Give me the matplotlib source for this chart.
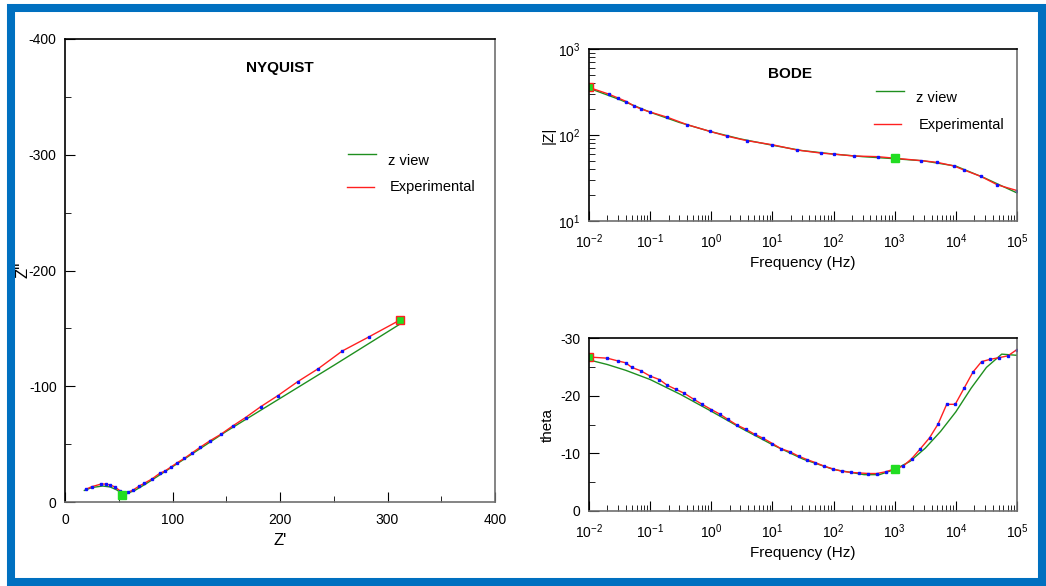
import numpy as np
import matplotlib.pyplot as plt
from matplotlib.patches import Rectangle
from matplotlib.ticker import LogLocator, MultipleLocator, NullFormatter

plt.rcParams['font.family'] = ['Liberation Sans', 'DejaVu Sans']
plt.rcParams['axes.unicode_minus'] = False
plt.rcParams['mathtext.fontset'] = 'custom'
plt.rcParams['mathtext.rm'] = 'Liberation Sans'
plt.rcParams['mathtext.it'] = 'Liberation Sans:italic'

# Nyquist - experimental
exp_zre = [19.5, 24.8, 33.5, 38, 42, 46.5, 51, 56, 59, 63.5, 69, 73.5, 81, 88, 93, 99,
           104.5, 111, 118.5, 125.6, 135, 145, 156, 168, 182, 198, 216.5, 235.6, 258, 283, 311.6]
exp_zim = [-11, -13.2, -15.5, -15.5, -14.7, -13, -9.8, -8, -8.6, -10.4, -13.8, -16, -20, -24.7,
           -26.8, -30.5, -34, -37.7, -42.6, -47.2, -53, -58.5, -65.7, -73, -82.3, -91.9, -104,
           -115.2, -130.5, -142.8, -157.2]
# Nyquist - z view fit
fit_zre = [18, 25, 35, 42, 48, 53, 58, 65, 75, 90, 110, 150, 200, 250, 313]
fit_zim = [-10, -12.5, -13.8, -13, -10.5, -7.5, -7.5, -10, -15.5, -24.5, -36.5, -61, -89.5, -118, -154.5]

# Bode |Z|
exp_f = [0.01, 0.021, 0.030, 0.041, 0.054, 0.072, 0.10, 0.19, 0.40, 0.96, 1.8, 3.8, 10, 25,
         62, 100, 214, 525, 1000, 2690, 5000, 9330, 13800, 25700, 47900, 100000]
exp_mod = [357, 299, 269, 245, 218, 200, 185, 161, 132, 110, 97, 86, 77, 67, 61.6, 60, 57,
           56, 53.7, 50.4, 48, 43.6, 39, 33, 26.3, 22.6]
fit_f = [0.01, 0.03, 0.1, 0.3, 1, 3, 10, 30, 100, 300, 1000, 3000, 10000, 30000, 100000]
fit_mod = [350, 262, 184, 140, 109, 90, 76, 66, 60, 56, 53, 50, 43.5, 31.5, 21.2]

# Bode theta
th_logf = [-2, -1.70, -1.52, -1.40, -1.30, -1.15, -1.0, -0.85, -0.72, -0.58, -0.44, -0.29,
           -0.15, 0, 0.14, 0.27, 0.42, 0.56, 0.71, 0.85, 1.0, 1.14, 1.28, 1.43, 1.57, 1.70,
           1.84, 1.99, 2.13, 2.28, 2.42, 2.57, 2.71, 2.85, 3.0, 3.14, 3.28, 3.42, 3.57, 3.71,
           3.85, 3.99, 4.14, 4.28, 4.42, 4.56, 4.71, 4.85, 5.0]
exp_theta = [-26.7, -26.5, -26.0, -25.7, -24.9, -24.3, -23.4, -22.8, -21.8, -21.1, -20.4,
             -19.4, -18.5, -17.6, -16.8, -15.9, -14.9, -14.2, -13.3, -12.6, -11.7, -10.8,
             -10.3, -9.5, -8.9, -8.4, -7.8, -7.3, -6.9, -6.7, -6.6, -6.5, -6.5, -6.8, -7.3,
             -7.8, -9.1, -10.8, -12.7, -15.1, -18.5, -18.5, -21.4, -24.1, -25.9, -26.3,
             -26.6, -26.9, -28.0]
fit_logf = [-2, -1.7, -1.4, -1.0, -0.5, 0, 0.5, 1.0, 1.5, 2.0, 2.5, 2.75, 3.0, 3.25, 3.5,
            3.75, 4.0, 4.25, 4.5, 4.75, 5.0]
fit_theta = [-26.2, -25.4, -24.4, -22.8, -20.2, -17.3, -14.3, -11.5, -9.0, -7.2, -6.3, -6.3,
             -7.2, -8.6, -10.9, -13.8, -17.2, -21.3, -24.9, -27.2, -27.0]

W, H = 1046, 586
fig = plt.figure(figsize=(W / 100, H / 100), dpi=100)
# blue frame, 8 px wide
fig.patches.append(Rectangle((11 / W, 4 / H), (1042 - 11) / W, (578 - 4) / H,
                             transform=fig.transFigure, fill=False,
                             edgecolor='#0070c0', linewidth=5.8, zorder=10))

GREEN = '#1f8f1f'
RED = '#ff2020'
BLUE = '#1010ff'
SQ_GREEN = '#22dd22'


def px_axes(l, t, r, b):
    return fig.add_axes([l / W, (H - b) / H, (r - l) / W, (b - t) / H])


def style_axes(ax):
    for s in ['left', 'top']:
        ax.spines[s].set_color('black')
    for s in ['right', 'bottom']:
        ax.spines[s].set_color('#707070')
    for s in ax.spines.values():
        s.set_linewidth(1.2)
    ax.tick_params(which='both', direction='in', labelsize=10, top=False, right=False)
    ax.tick_params(which='major', length=7)
    ax.tick_params(which='minor', length=4)
    ax.tick_params(axis='x', which='both', pad=8)
    ax.tick_params(axis='y', which='both', pad=6)


def legend(ax, x0, x1, y1, y2, tx1, tx2, ty1, ty2):
    ax.plot([x0, x1], [y1, y1], color=GREEN, lw=1, transform=ax.transAxes)
    ax.plot([x0 - 0.003, x1 - 0.005], [y2, y2], color=RED, lw=1, transform=ax.transAxes)
    ax.text(tx1, ty1, 'z view', transform=ax.transAxes, fontsize=10.5, va='center')
    ax.text(tx2, ty2, 'Experimental', transform=ax.transAxes, fontsize=10.5, va='center')


def exp_line(ax, x, y):
    ax.plot(x, y, color=RED, lw=1, marker='s', ms=2, mfc=BLUE, mec=BLUE)


# Nyquist
ax1 = px_axes(65, 39, 495, 502)
ax1.plot(fit_zre, fit_zim, color=GREEN, lw=1)
exp_line(ax1, exp_zre, exp_zim)
ax1.plot(exp_zre[-1], exp_zim[-1], marker='s', ms=6, mfc=SQ_GREEN, mec=RED)
ax1.plot(53, -6, marker='s', ms=6, mfc=SQ_GREEN, mec=SQ_GREEN)
ax1.set_xlim(0, 400)
ax1.set_ylim(0, -400)
ax1.xaxis.set_major_locator(MultipleLocator(100))
ax1.xaxis.set_minor_locator(MultipleLocator(50))
ax1.yaxis.set_major_locator(MultipleLocator(100))
ax1.yaxis.set_minor_locator(MultipleLocator(50))
style_axes(ax1)
ax1.set_xlabel("Z'", fontsize=12, labelpad=4)
fig.text(23 / W, (H - 270) / H, "Z''", fontsize=12, rotation=90, ha='center', va='center')
ax1.text(0.5, 0.937, 'NYQUIST', transform=ax1.transAxes, fontsize=11, fontweight='bold',
         ha='center', va='center')
legend(ax1, 0.658, 0.723, 0.752, 0.680, 0.751, 0.756, 0.737, 0.680)

# Bode |Z|
ax2 = px_axes(589, 49, 1017, 221)
ax2.loglog(fit_f, fit_mod, color=GREEN, lw=1)
exp_line(ax2, exp_f, exp_mod)
ax2.plot(exp_f[0], exp_mod[0], marker='s', ms=6, mfc=SQ_GREEN, mec=RED)
ax2.plot(1000, 53.7, marker='s', ms=6, mfc=SQ_GREEN, mec=SQ_GREEN)
ax2.set_xlim(1e-2, 1e5)
ax2.set_ylim(10, 1000)
ax2.xaxis.set_major_locator(LogLocator(base=10, numticks=20))
ax2.xaxis.set_minor_locator(LogLocator(base=10, subs=np.arange(2, 10), numticks=20))
ax2.xaxis.set_minor_formatter(NullFormatter())
style_axes(ax2)
ax2.set_xlabel('Frequency (Hz)', fontsize=11, labelpad=4)
ax2.set_ylabel('|Z|', fontsize=11, labelpad=2)
ax2.text(0.47, 0.855, 'BODE', transform=ax2.transAxes, fontsize=11, fontweight='bold',
         ha='center', va='center')
legend(ax2, 0.670, 0.735, 0.756, 0.564, 0.763, 0.770, 0.718, 0.558)

# Bode theta
ax3 = px_axes(589, 338, 1017, 511)
th_f = [10 ** v for v in th_logf]
fit_tf = [10 ** v for v in fit_logf]
ax3.semilogx(fit_tf, fit_theta, color=GREEN, lw=1)
exp_line(ax3, th_f, exp_theta)
ax3.plot(th_f[0], exp_theta[0], marker='s', ms=6, mfc=SQ_GREEN, mec=RED)
ax3.plot(1000, -7.3, marker='s', ms=6, mfc=SQ_GREEN, mec=SQ_GREEN)
ax3.set_xlim(1e-2, 1e5)
ax3.set_ylim(0, -30)
ax3.yaxis.set_major_locator(MultipleLocator(10))
ax3.yaxis.set_minor_locator(MultipleLocator(5))
ax3.xaxis.set_major_locator(LogLocator(base=10, numticks=20))
ax3.xaxis.set_minor_locator(LogLocator(base=10, subs=np.arange(2, 10), numticks=20))
ax3.xaxis.set_minor_formatter(NullFormatter())
style_axes(ax3)
ax3.set_xlabel('Frequency (Hz)', fontsize=11, labelpad=4)
ax3.set_ylabel('theta', fontsize=11, labelpad=4)

fig.savefig('out.png', dpi=100)
